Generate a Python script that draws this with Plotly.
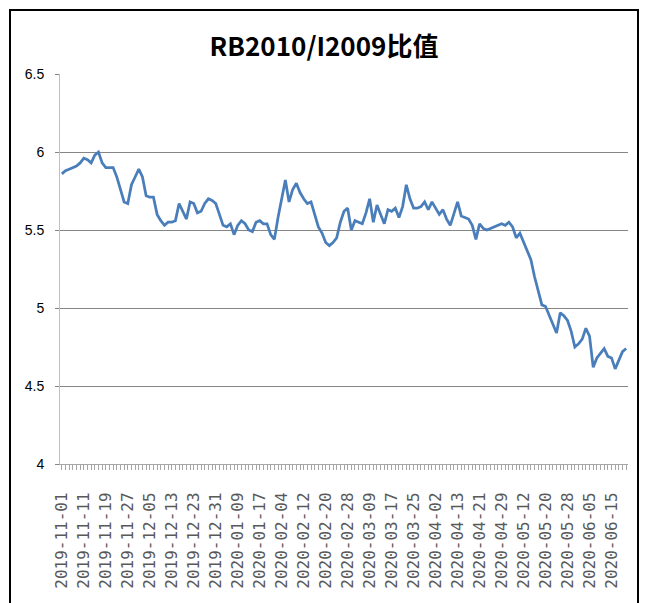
import plotly.graph_objects as go

# Trading days (categories)
nov = ["2019-11-%02d" % d for d in [1, 4, 5, 6, 7, 8, 11, 12, 13, 14, 15, 18, 19, 20, 21, 22, 25, 26, 27, 28, 29]]
dec = ["2019-12-%02d" % d for d in [2, 3, 4, 5, 6, 9, 10, 11, 12, 13, 16, 17, 18, 19, 20, 23, 24, 25, 26, 27, 30, 31]]
jan = ["2020-01-%02d" % d for d in [2, 3, 6, 7, 8, 9, 10, 13, 14, 15, 16, 17, 20, 21, 22, 23]]
feb = ["2020-02-%02d" % d for d in [3, 4, 5, 6, 7, 10, 11, 12, 13, 14, 17, 18, 19, 20, 21, 24, 25, 26, 27, 28]]
mar = ["2020-03-%02d" % d for d in [2, 3, 4, 5, 6, 9, 10, 11, 12, 13, 16, 17, 18, 19, 20, 23, 24, 25, 26, 27, 30, 31]]
apr = ["2020-04-%02d" % d for d in [1, 2, 3, 7, 8, 9, 10, 13, 14, 15, 16, 17, 20, 21, 22, 23, 24, 27, 28, 29, 30]]
may = ["2020-05-%02d" % d for d in [6, 7, 8, 11, 12, 13, 14, 15, 18, 19, 20, 21, 22, 25, 26, 27, 28, 29]]
jun = ["2020-06-%02d" % d for d in [1, 2, 3, 4, 5, 8, 9, 10, 11, 12, 15, 16, 17, 18, 19]]
dates = nov + dec + jan + feb + mar + apr + may + jun

# RB2010/I2009 ratio values
ratio = [
    5.86, 5.88, 5.89, 5.90, 5.91, 5.93, 5.96, 5.95, 5.93, 5.98,
    6.00, 5.93, 5.90, 5.90, 5.90, 5.84, 5.76, 5.68, 5.67, 5.79,
    5.84, 5.89, 5.84, 5.72, 5.71, 5.71, 5.60, 5.56, 5.53, 5.55,
    5.55, 5.56, 5.67, 5.62, 5.57, 5.68, 5.67, 5.61, 5.62, 5.67,
    5.70, 5.69, 5.67, 5.60, 5.53, 5.52, 5.54, 5.47, 5.53, 5.56,
    5.54, 5.50, 5.49, 5.55, 5.56, 5.54, 5.54, 5.47, 5.44, 5.58,
    5.70, 5.82, 5.68, 5.76, 5.80, 5.74, 5.70, 5.67, 5.68, 5.60,
    5.52, 5.48, 5.42, 5.40, 5.42, 5.45, 5.55, 5.62, 5.64, 5.50,
    5.56, 5.55, 5.54, 5.61, 5.70, 5.55, 5.66, 5.60, 5.54, 5.63,
    5.62, 5.64, 5.58, 5.65, 5.79, 5.70, 5.64, 5.64, 5.65, 5.68,
    5.63, 5.68, 5.64, 5.60, 5.63, 5.57, 5.53, 5.61, 5.68, 5.59,
    5.58, 5.57, 5.53, 5.44, 5.54, 5.51, 5.50, 5.51, 5.52, 5.53,
    5.54, 5.53, 5.55, 5.52, 5.45, 5.48, 5.42, 5.36, 5.31, 5.20,
    5.10, 5.02, 5.01, 4.95, 4.90, 4.84, 4.97, 4.95, 4.92, 4.85,
    4.75, 4.77, 4.80, 4.87, 4.82, 4.62, 4.68, 4.71, 4.74, 4.69,
    4.68, 4.61, 4.67, 4.72, 4.74,
]

label_step = 6
tick_text = [d if i % label_step == 0 else "" for i, d in enumerate(dates)]

fig = go.Figure()
fig.add_trace(go.Scatter(
    x=dates, y=ratio, mode="lines",
    line=dict(color="#4A7EBB", width=2.75),
    hoverinfo="x+y", showlegend=False,
))

fig.update_layout(
    width=648, height=603,
    margin=dict(l=60, r=20, t=74, b=139),
    paper_bgcolor="white", plot_bgcolor="white",
    title=dict(
        text="RB2010/I2009比值",
        x=0.5, xref="container", xanchor="center",
        y=1 - 47 / 603, yref="container", yanchor="middle",
        font=dict(family="Noto Sans CJK SC", size=26, color="#000000", weight="bold"),
    ),
    xaxis=dict(
        type="category",
        categoryorder="array", categoryarray=dates,
        tickmode="array", tickvals=dates, ticktext=tick_text,
        tickangle=-90,
        ticks="outside", ticklen=5, tickcolor="#A6A6A6", tickwidth=1,
        ticklabelstandoff=16,
        showline=True, linecolor="#A6A6A6", linewidth=1,
        showgrid=False, zeroline=False,
        tickfont=dict(family="DejaVu Sans Mono", size=16, color="#595959"),
        range=[-0.5, len(dates) - 0.5],
    ),
    yaxis=dict(
        range=[4, 6.5], dtick=0.5, tick0=4,
        showgrid=True, gridcolor="#868686", gridwidth=1,
        ticks="outside", ticklen=4, tickcolor="#868686",
        ticklabelstandoff=8,
        showline=True, linecolor="#BFBFBF", linewidth=1,
        zeroline=False,
        tickfont=dict(family="Liberation Sans Narrow, Liberation Sans", size=14, color="#000000"),
    ),
    shapes=[dict(
        type="rect", xref="paper", yref="paper",
        x0=(10 - 60) / 568, x1=(638 - 60) / 568,
        y0=(464 - 620) / 390, y1=(464 - 10) / 390,
        line=dict(color="#000000", width=2), fillcolor="rgba(0,0,0,0)",
        layer="above",
    )],
)

fig.write_html("out.html", config={"displayModeBar": False},
               post_script="document.body.style.margin='0';")
